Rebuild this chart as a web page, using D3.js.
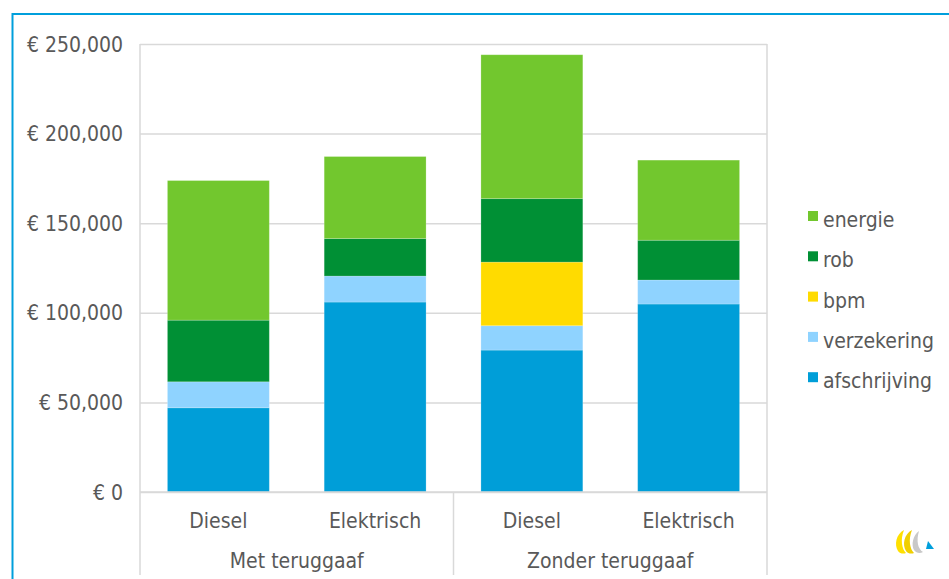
<!DOCTYPE html>
<html>
<head>
<meta charset="utf-8">
<script src="https://cdn.jsdelivr.net/npm/d3@7"></script>
<style>
  html, body { margin: 0; padding: 0; background: #fff; }
  svg { display: block; font-family: "DejaVu Sans Condensed", "DejaVu Sans", sans-serif; font-stretch: condensed; }
</style>
</head>
<body>
<svg id="chart" width="949" height="579"></svg>
<script>
// ---- data ----
const categories = ["Diesel", "Elektrisch", "Diesel", "Elektrisch"];
const groups = ["Met teruggaaf", "Zonder teruggaaf"];
const groupOf = [0, 0, 1, 1];
const seriesNames = ["afschrijving", "verzekering", "bpm", "rob", "energie"];
const afschrijving = [47000, 106000, 79200, 104900];
const verzekering  = [14500, 14500, 13600, 13400];
const bpm          = [0, 0, 35500, 0];
const rob          = [34400, 20900, 35400, 22200];
const energie      = [77900, 45800, 80300, 44700];
const yTicks = [0, 50000, 100000, 150000, 200000, 250000];
const legendOrder = ["energie", "rob", "bpm", "verzekering", "afschrijving"];
const colors = {
  afschrijving: "#009ED8",
  verzekering: "#8FD3FF",
  bpm: "#FFDB00",
  rob: "#009035",
  energie: "#72C72E"
};

// ---- layout ----
const svg = d3.select("#chart");
const textColor = "#595959";
const gridColor = "#D9D9D9";
const plot = { left: 140, right: 767, top: 44, bottom: 492 };

const rows = categories.map((c, i) => ({
  idx: i,
  afschrijving: afschrijving[i],
  verzekering: verzekering[i],
  bpm: bpm[i],
  rob: rob[i],
  energie: energie[i]
}));

const pad = 0.35;
const x = d3.scaleBand().domain(d3.range(categories.length))
  .range([plot.left, plot.right]).paddingInner(pad).paddingOuter(pad / 2);
const y = d3.scaleLinear().domain([0, 250000]).range([plot.bottom, plot.top]);
const step = x.step();

// outer frame (blue top + left lines)
svg.append("line").attr("x1", 12.5).attr("x2", 949).attr("y1", 14).attr("y2", 14)
  .attr("stroke", "#009FDC").attr("stroke-width", 2);
svg.append("line").attr("x1", 12.5).attr("x2", 12.5).attr("y1", 13).attr("y2", 579)
  .attr("stroke", "#009FDC").attr("stroke-width", 2);

// gridlines
const yAxis = d3.axisLeft(y).tickValues(yTicks)
  .tickSize(-(plot.right - plot.left))
  .tickPadding(17)
  .tickFormat(v => "€ " + d3.format(",")(v));
const gy = svg.append("g").attr("transform", `translate(${plot.left},0)`).call(yAxis);
gy.select(".domain").remove();
gy.selectAll(".tick line").attr("stroke", gridColor).attr("stroke-width", 1.5);
gy.selectAll(".tick text").attr("fill", textColor).attr("font-size", 21)
  .attr("font-family", '"DejaVu Sans Condensed", "DejaVu Sans", sans-serif')
  .attr("dy", null).attr("dominant-baseline", "central");

// plot area vertical borders
svg.append("line").attr("x1", plot.left).attr("x2", plot.left)
  .attr("y1", plot.top).attr("y2", plot.bottom).attr("stroke", gridColor).attr("stroke-width", 1.5);
svg.append("line").attr("x1", plot.right).attr("x2", plot.right)
  .attr("y1", plot.top).attr("y2", plot.bottom).attr("stroke", gridColor).attr("stroke-width", 1.5);

// stacked bars
const stack = d3.stack().keys(seriesNames);
const stacked = stack(rows);
const layers = svg.append("g").selectAll("g").data(stacked).join("g")
  .attr("fill", d => colors[d.key]);
layers.selectAll("rect").data(d => d).join("rect")
  .attr("x", d => x(d.data.idx))
  .attr("width", x.bandwidth())
  .attr("y", d => y(d[1]))
  .attr("height", d => Math.max(0, y(d[0]) - y(d[1])))
  .attr("stroke", "#ffffff").attr("stroke-opacity", 0.25).attr("stroke-width", 0.8);

// category axis
svg.append("line").attr("x1", plot.left).attr("x2", plot.right)
  .attr("y1", plot.bottom).attr("y2", plot.bottom).attr("stroke", gridColor).attr("stroke-width", 1.5);

const bounds = [plot.left];
groups.forEach((g, gi) => {
  const idxs = d3.range(categories.length).filter(i => groupOf[i] === gi);
  const last = d3.max(idxs);
  bounds.push(last === categories.length - 1 ? plot.right : x(last) + x.bandwidth() + step * pad / 2);
});
bounds.forEach(bx => {
  svg.append("line").attr("x1", bx).attr("x2", bx)
    .attr("y1", plot.bottom).attr("y2", 575).attr("stroke", gridColor).attr("stroke-width", 1.5);
});

svg.append("g").selectAll("text").data(categories).join("text")
  .attr("x", (d, i) => x(i) + x.bandwidth() / 2)
  .attr("y", 528)
  .attr("text-anchor", "middle")
  .attr("fill", textColor).attr("font-size", 21)
  .text(d => d);

svg.append("g").selectAll("text").data(groups).join("text")
  .attr("x", (d, i) => (bounds[i] + bounds[i + 1]) / 2)
  .attr("y", 568)
  .attr("text-anchor", "middle")
  .attr("fill", textColor).attr("font-size", 21)
  .text(d => d);

// legend
const legend = svg.append("g").selectAll("g").data(legendOrder).join("g")
  .attr("transform", (d, i) => `translate(808, ${227 + i * 40.3})`);
legend.append("rect").attr("x", 0).attr("y", -16).attr("width", 10).attr("height", 10)
  .attr("fill", d => colors[d]);
legend.append("text").attr("x", 15).attr("y", 0)
  .attr("fill", textColor).attr("font-size", 21).text(d => d);

// small logo (decorative)
const logo = svg.append("g").attr("transform", "translate(895,530)");
logo.append("path").attr("d", "M9,0 C1,4 -1,15 3,21 C5,24 9,24 11,23 C7,19 5,10 9,0 Z").attr("fill", "#FFE000");
logo.append("path").attr("d", "M17,0 C9,4 7,15 11,21 C13,24 17,24 19,23 C15,19 13,10 17,0 Z").attr("fill", "#F0CF00");
logo.append("path").attr("d", "M24,1 C18,5 16,15 19,20 C21,23 25,24 28,22 C23,19 21,11 24,1 Z").attr("fill", "#C8C8C8");
logo.append("path").attr("d", "M33,11 L39,19 L31,19 Z").attr("fill", "#009FDC");
</script>
</body>
</html>
